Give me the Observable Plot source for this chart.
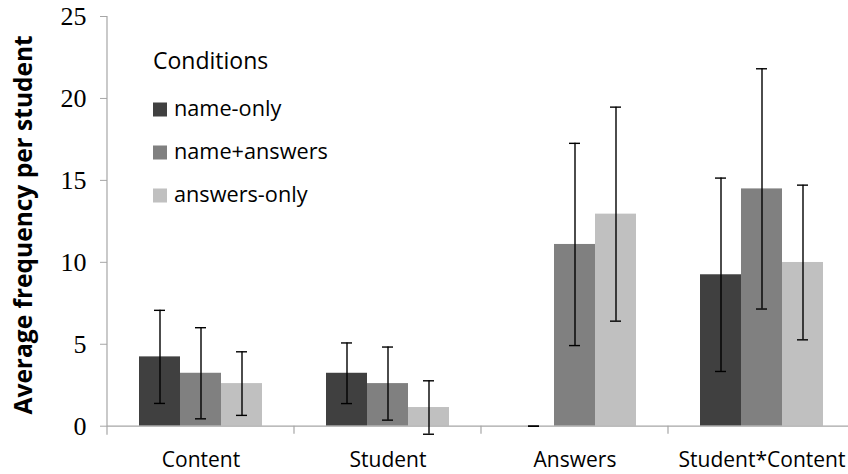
<!DOCTYPE html>
<html><head><meta charset="utf-8">
<script src="https://cdn.jsdelivr.net/npm/d3@7"></script>
<script src="https://cdn.jsdelivr.net/npm/@observablehq/plot@0.6"></script>
<style>html,body{margin:0;padding:0;background:#fff;overflow:hidden}</style>
</head><body><div id="chart"></div>
<script>
const categories = ["Content", "Student", "Answers", "Student*Content"];
const conditions = ["name-only", "name+answers", "answers-only"];
const colors = ["#404040", "#808080", "#c0c0c0"];
const yTicks = [0, 5, 10, 15, 20, 25];
const nameOnly = [4.23, 3.23, 0, 9.24];
const nameAnswers = [3.23, 2.6, 11.09, 14.48];
const answersOnly = [2.6, 1.14, 12.94, 9.99];
const nameOnlyErr = [2.84, 1.85, 0, 5.9];
const nameAnswersErr = [2.78, 2.23, 6.17, 7.33];
const answersOnlyErr = [1.94, 1.63, 6.53, 4.72];
const yTitle = "Average frequency per student";
const legendTitle = "Conditions";

const series = [nameOnly, nameAnswers, answersOnly];
const errs = [nameOnlyErr, nameAnswersErr, answersOnlyErr];
const data = conditions.flatMap((c, i) => categories.map((cat, j) => ({
  category: cat, condition: c, value: series[i][j], err: errs[i][j]
})));

const axisGray = "#a6a6a6";
const plot = Plot.plot({
  width: 848, height: 474,
  marginLeft: 107, marginRight: -7, marginTop: 16, marginBottom: 48.3,
  style: {fontFamily: "Open Sans", background: "white", overflow: "hidden"},
  fx: {domain: categories, padding: 0, label: null},
  x: {domain: conditions, paddingInner: 0, paddingOuter: 0.753, axis: null},
  y: {domain: [0, 25], label: null},
  color: {domain: conditions, range: colors},
  marks: [
    Plot.barY(data, {fx: "category", x: "condition", y: "value", fill: "condition"}),
    Plot.ruleY([0], {stroke: axisGray, strokeWidth: 1.2}),
    Plot.ruleX(data, {fx: "category", x: "condition", y1: d => d.value - d.err, y2: d => d.value + d.err, stroke: "black", strokeWidth: 1.4}),
    Plot.tickY(data, {fx: "category", x: "condition", y: d => d.value + d.err, insetLeft: 15, insetRight: 15, stroke: "black", strokeWidth: 1.4}),
    Plot.tickY(data, {fx: "category", x: "condition", y: d => d.value - d.err, insetLeft: 15, insetRight: 15, stroke: "black", strokeWidth: 1.4}),
    Plot.axisY({ticks: yTicks, tickSize: 7, tickPadding: 14, fontSize: 26, fontFamily: "Liberation Serif", stroke: axisGray, fill: "black", tickFormat: d => String(d), label: null}),
    Plot.axisFx({anchor: "bottom", tickSize: 0, tickPadding: 26, fontSize: 21, fontFamily: "Open Sans", fill: "black", label: null})
  ]
});

document.getElementById("chart").appendChild(plot);

const svg = d3.select(plot);
const ys = plot.scale("y");
const fxs = plot.scale("fx");
const y0 = ys.apply(0), yTop = ys.apply(25);
const xLeft = fxs.apply(categories[0]);

// y-axis line
svg.append("line").attr("x1", xLeft).attr("x2", xLeft).attr("y1", yTop).attr("y2", y0 + 9)
  .attr("stroke", axisGray).attr("stroke-width", 1.2);
// category divider ticks
categories.slice(1).forEach(cat => {
  const x = fxs.apply(cat);
  svg.append("line").attr("x1", x).attr("x2", x).attr("y1", y0).attr("y2", y0 + 8)
    .attr("stroke", axisGray).attr("stroke-width", 1.2);
});
// y title
svg.append("text")
  .attr("transform", `translate(22,${(y0 + yTop) / 2 + 4}) rotate(-90)`)
  .attr("text-anchor", "middle").attr("dominant-baseline", "central")
  .attr("font-family", "Open Sans").attr("font-weight", "bold").attr("font-size", 24.5)
  .attr("fill", "black").text(yTitle);
// legend
const lg = svg.append("g").attr("transform", "translate(153,0)").attr("text-anchor", "start");
lg.append("text").attr("x", 0).attr("y", 69).attr("font-size", 23).attr("fill", "black").text(legendTitle);
conditions.forEach((c, i) => {
  const cy = 109.5 + i * 43;
  lg.append("rect").attr("x", 0).attr("y", cy - 7).attr("width", 14).attr("height", 14).attr("fill", colors[i]);
  lg.append("text").attr("x", 21).attr("y", cy + 6).attr("font-size", 21.7).attr("fill", "black").text(c);
});
</script>
</body></html>
